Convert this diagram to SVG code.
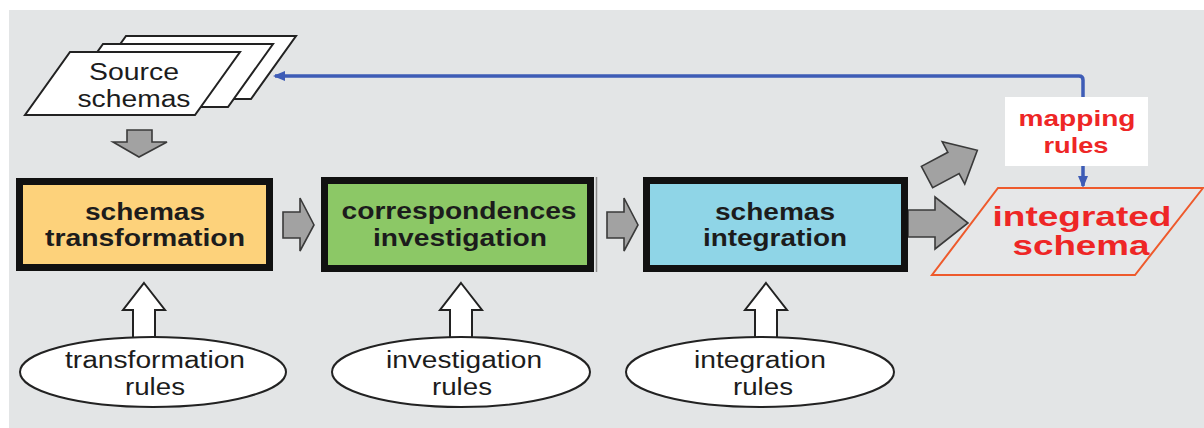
<svg xmlns="http://www.w3.org/2000/svg" width="1204" height="428" viewBox="0 0 1204 428">
  <defs>
    <style>
      .t { font-family: "Liberation Sans", Arial, sans-serif; text-anchor: middle; }
      .box { stroke: #111; stroke-width: 7; }
      .bt { font-size: 23px; font-weight: bold; fill: #1c1c1c; }
      .et { font-size: 23px; fill: #1c1c1c; }
      .sheet { fill: #fff; stroke: #222; stroke-width: 2; stroke-linejoin: miter; }
      .garrow { fill: #a2a2a2; stroke: #3a3a3a; stroke-width: 1.6; stroke-linejoin: miter; }
      .warrow { fill: #fff; stroke: #222; stroke-width: 2; stroke-linejoin: miter; }
      .rule { fill: #fff; stroke: #222; stroke-width: 2; }
      .red { fill: #ee2626; font-weight: bold; }
      .link { fill: none; stroke: #3e5cb6; stroke-width: 3.5; }
    </style>
    <marker id="bluehead" viewBox="0 0 12 10" refX="10" refY="5" markerWidth="12" markerHeight="10" markerUnits="userSpaceOnUse" orient="auto-start-reverse">
      <path d="M0,0 L12,5 L0,10 Z" fill="#3e5cb6"/>
    </marker>
  </defs>

  <!-- backdrop -->
  <rect x="0" y="0" width="1204" height="428" fill="#ffffff"/>
  <rect x="9" y="10" width="1195" height="418" fill="#e3e5e6"/>

  <!-- connectors -->
  <g id="connectors">
    <!-- feedback line: integrated schema back to source schemas -->
    <path class="link" d="M275,76 H1079 Q1083,76 1083,80 V186" marker-start="url(#bluehead)" marker-end="url(#bluehead)"/>
    <!-- source down to transformation -->
    <polygon class="garrow" points="127,130 152,130 152,142 167,142 139,157 113,142 127,142"/>
    <!-- process flow arrows -->
    <polygon class="garrow" points="283,212 300,212 300,198 314,225 300,251 300,238 283,238"/>
    <polygon class="garrow" points="607,212 624,212 624,198 638,225 624,251 624,238 607,238"/>
    <polygon class="garrow" points="908,210 935,210 935,197 968,223 935,249 935,237 908,237"/>
    <polygon class="garrow" points="0,-12 30,-12 30,-24 57,0 30,24 30,12 0,12" transform="translate(927,177) rotate(-28)"/>
    <!-- rule inputs -->
    <polygon class="warrow" points="144,283 165,310 155,310 155,340 133,340 133,310 123,310"/>
    <polygon class="warrow" points="461,283 482,310 472,310 472,340 450,340 450,310 440,310"/>
    <polygon class="warrow" points="766,283 787,310 777,310 777,340 755,340 755,310 745,310"/>
  </g>

  <!-- source schemas stack -->
  <g id="source-schemas">
    <polygon class="sheet" points="126,36 296,36 251,99 81,99"/>
    <polygon class="sheet" points="103,44 273,44 228,107 58,107"/>
    <polygon class="sheet" points="70,52 240,52 195,115 25,115"/>
    <text class="t" x="134" y="80" font-size="23" fill="#1c1c1c" textLength="90" lengthAdjust="spacingAndGlyphs">Source</text>
    <text class="t" x="134" y="107" font-size="23" fill="#1c1c1c" textLength="113" lengthAdjust="spacingAndGlyphs">schemas</text>
  </g>

  <!-- schemas transformation -->
  <g id="schemas-transformation">
    <rect class="box" x="19.5" y="181.5" width="250" height="86" fill="#fdd27b"/>
    <text class="t bt" x="145" y="220" textLength="120" lengthAdjust="spacingAndGlyphs">schemas</text>
    <text class="t bt" x="145" y="246" textLength="200" lengthAdjust="spacingAndGlyphs">transformation</text>
  </g>

  <!-- correspondences investigation -->
  <g id="correspondences-investigation">
    <rect class="box" x="324.5" y="180.5" width="266" height="88" fill="#8cc866"/>
    <line x1="596.5" y1="177" x2="596.5" y2="272" stroke="#8a8a8a" stroke-width="1.5"/>
    <text class="t bt" x="459" y="219" textLength="235" lengthAdjust="spacingAndGlyphs">correspondences</text>
    <text class="t bt" x="460" y="246" textLength="174" lengthAdjust="spacingAndGlyphs">investigation</text>
  </g>

  <!-- schemas integration -->
  <g id="schemas-integration">
    <rect class="box" x="646.5" y="180.5" width="258" height="88" fill="#8fd5e7"/>
    <text class="t bt" x="775" y="220" textLength="120" lengthAdjust="spacingAndGlyphs">schemas</text>
    <text class="t bt" x="775" y="246" textLength="144" lengthAdjust="spacingAndGlyphs">integration</text>
  </g>

  <!-- mapping rules -->
  <g id="mapping-rules">
    <rect x="1005" y="97" width="143" height="69" fill="#ffffff"/>
    <text class="t red" x="1077" y="126" font-size="22" textLength="117" lengthAdjust="spacingAndGlyphs">mapping</text>
    <text class="t red" x="1076" y="153" font-size="22" textLength="65" lengthAdjust="spacingAndGlyphs">rules</text>
  </g>

  <!-- integrated schema -->
  <g id="integrated-schema">
    <polygon points="998,188 1203,188 1135,275 932,275" fill="#e6e7e8" stroke="#ee5a2c" stroke-width="2"/>
    <text class="t red" x="1082" y="226" font-size="27" textLength="179" lengthAdjust="spacingAndGlyphs">integrated</text>
    <text class="t red" x="1081" y="255" font-size="27" textLength="137" lengthAdjust="spacingAndGlyphs">schema</text>
  </g>

  <!-- rule sets -->
  <g id="transformation-rules">
    <ellipse class="rule" cx="153" cy="372" rx="133" ry="35"/>
    <text class="t et" x="155" y="368" textLength="180" lengthAdjust="spacingAndGlyphs">transformation</text>
    <text class="t et" x="155" y="395" textLength="60" lengthAdjust="spacingAndGlyphs">rules</text>
  </g>
  <g id="investigation-rules">
    <ellipse class="rule" cx="461" cy="372" rx="129" ry="35"/>
    <text class="t et" x="464" y="368" textLength="156" lengthAdjust="spacingAndGlyphs">investigation</text>
    <text class="t et" x="462" y="395" textLength="60" lengthAdjust="spacingAndGlyphs">rules</text>
  </g>
  <g id="integration-rules">
    <ellipse class="rule" cx="760" cy="372" rx="134" ry="35"/>
    <text class="t et" x="760" y="368" textLength="132" lengthAdjust="spacingAndGlyphs">integration</text>
    <text class="t et" x="763" y="395" textLength="60" lengthAdjust="spacingAndGlyphs">rules</text>
  </g>
</svg>
